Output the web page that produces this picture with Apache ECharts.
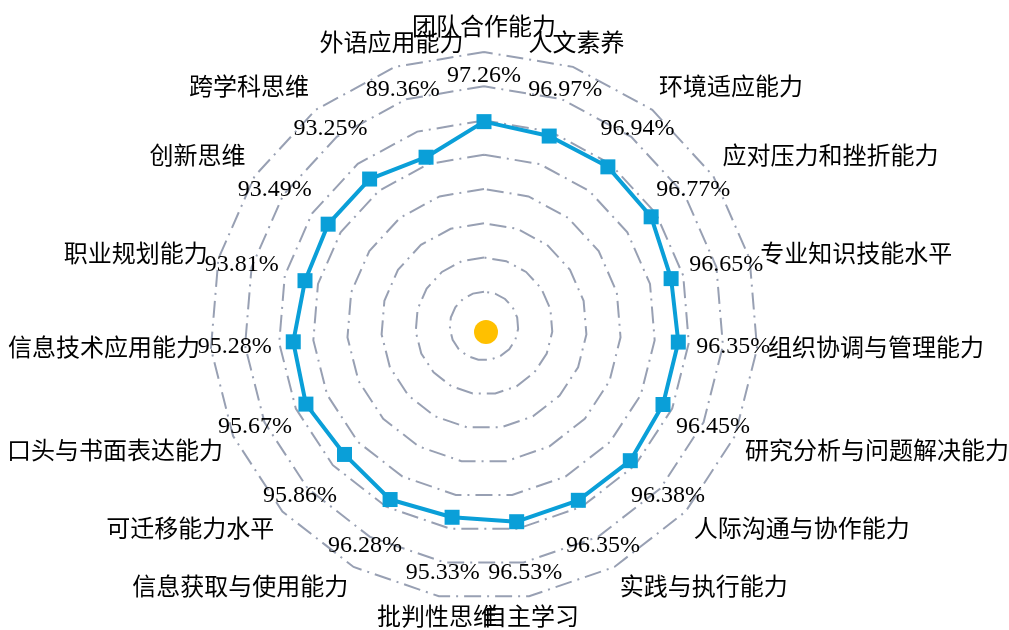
<!DOCTYPE html>
<html>
<head>
<meta charset="utf-8">
<script src="https://cdn.jsdelivr.net/npm/echarts@6/dist/echarts.min.js"></script>
<style>
html,body{margin:0;padding:0;background:#fff;}
#chart{width:1009px;height:630px;}
</style>
</head>
<body>
<div id="chart"></div>
<script>
// Indicators in counter-clockwise order starting at the top
const indicatorNames = [
  '团队合作能力','外语应用能力','跨学科思维','创新思维','职业规划能力',
  '信息技术应用能力','口头与书面表达能力','可迁移能力水平','信息获取与使用能力','批判性思维',
  '自主学习','实践与执行能力','人际沟通与协作能力','研究分析与问题解决能力','组织协调与管理能力',
  '专业知识技能水平','应对压力和挫折能力','环境适应能力','人文素养'
];
// Percentages shown on the chart
const rateValues = [
  97.26, 89.36, 93.25, 93.49, 93.81,
  95.28, 95.67, 95.86, 96.28, 95.33,
  96.53, 96.35, 96.38, 96.45, 96.35,
  96.65, 96.77, 96.94, 96.97
];
// Axis maximum of each indicator (as read from where the points sit)
const indicatorMax = [
  130.4, 137.2, 137.2, 137.6, 139.2,
  136.4, 134.8, 138.5, 133.7, 134.7,
  133.3, 133.2, 132.8, 135.2, 135.4,
  137.2, 132.8, 131.7, 132.3
];
// Point sitting at the centre (radius 0, angle 0)
const centerPoint = [0, 0];

const CX = 484, CY = 326, R = 274;
const NAME_R = 285, VALUE_R = 250;
const FONT = "'Liberation Serif','Noto Sans CJK SC',serif";
const n = indicatorNames.length;

const nameData = indicatorNames.map((nm, i) => {
  const a = (90 + i * 360 / n) * Math.PI / 180;
  const c = Math.cos(a), s = Math.sin(a);
  const align = Math.abs(c) < 0.35 ? 'center' : (c > 0 ? 'left' : 'right');
  const vAlign = s > 0.35 ? 'bottom' : (s < -0.35 ? 'top' : 'middle');
  return { value: [NAME_R, i], name: nm, label: { align: align, verticalAlign: vAlign } };
});
const valueData = rateValues.map((v, i) => ({ value: [VALUE_R, i], name: v.toFixed(2) + '%' }));

const chart = echarts.init(document.getElementById('chart'), null, { renderer: 'canvas' });
chart.setOption({
  animation: false,
  backgroundColor: '#ffffff',
  radar: {
    center: [CX, CY],
    radius: R,
    startAngle: 90,
    splitNumber: 8,
    shape: 'polygon',
    indicator: indicatorNames.map((nm, i) => ({ name: nm, min: 0, max: indicatorMax[i] })),
    axisName: { show: false },
    axisLine: { show: false },
    axisTick: { show: false },
    axisLabel: { show: false },
    splitArea: { show: false },
    splitLine: { lineStyle: { color: '#98a0b3', width: 2, type: [17, 6, 2, 6] } }
  },
  polar: { center: [CX, CY], radius: 300 },
  angleAxis: { type: 'value', min: 0, max: n, startAngle: 90, clockwise: false, show: false },
  radiusAxis: { type: 'value', min: 0, max: 300, show: false },
  series: [
    {
      type: 'radar',
      symbol: 'rect',
      symbolSize: 15,
      lineStyle: { color: '#0a9fd8', width: 4 },
      itemStyle: { color: '#0a9fd8' },
      data: [{ value: rateValues, name: '比例' }],
      z: 3
    },
    {
      type: 'scatter',
      coordinateSystem: 'polar',
      symbol: 'circle',
      symbolSize: 24,
      symbolOffset: [2, 6],
      itemStyle: { color: '#ffc000', opacity: 1 },
      data: [centerPoint],
      z: 4
    },
    {
      type: 'scatter',
      coordinateSystem: 'polar',
      symbolSize: 0,
      silent: true,
      z: 5,
      itemStyle: { opacity: 1 },
      label: {
        show: true, position: [0, 0], formatter: '{b}',
        fontFamily: FONT, fontSize: 24, color: '#000000'
      },
      data: nameData
    },
    {
      type: 'scatter',
      coordinateSystem: 'polar',
      symbolSize: 0,
      silent: true,
      z: 5,
      itemStyle: { opacity: 1 },
      label: {
        show: true, position: [0, 0], formatter: '{b}',
        align: 'center', verticalAlign: 'middle',
        fontFamily: FONT, fontSize: 24, color: '#000000'
      },
      data: valueData
    }
  ]
});
</script>
</body>
</html>
